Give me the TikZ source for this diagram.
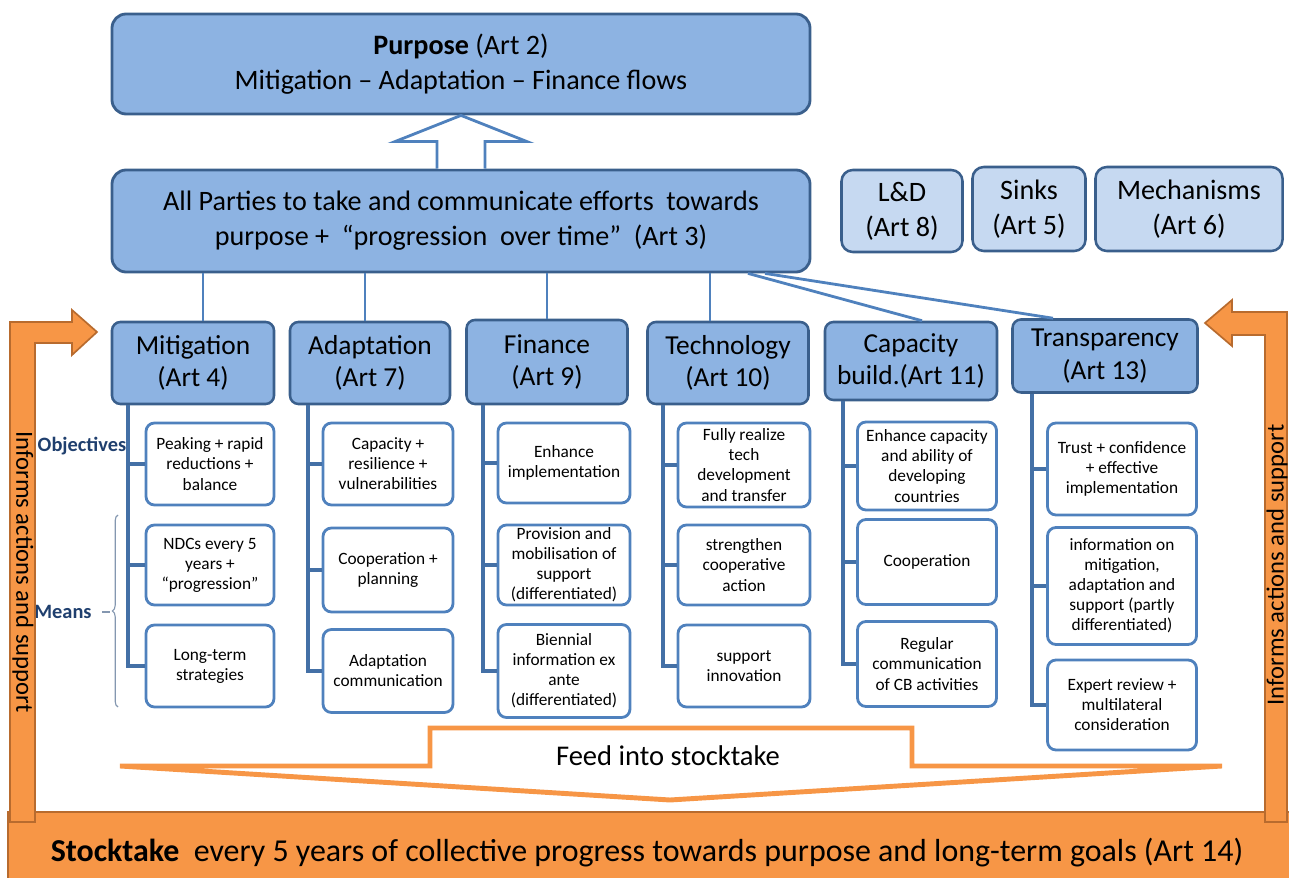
\documentclass[tikz,border=0pt]{standalone}
\usepackage{fontspec}
\setmainfont{Carlito}
\usetikzlibrary{calc}
\usetikzlibrary{decorations.pathreplacing}

\definecolor{boxfill}{HTML}{8DB3E2}
\definecolor{boxline}{HTML}{3A5F8C}
\definecolor{lightfill}{HTML}{C6D9F1}
\definecolor{subline}{HTML}{4F81BD}
\definecolor{trunkline}{HTML}{4470A6}
\definecolor{orangefill}{HTML}{F79646}
\definecolor{orangeline}{HTML}{B86B2E}
\definecolor{labelblue}{HTML}{1F3F6E}
\definecolor{bracegray}{HTML}{8497B0}
\newcommand{\pxu}{0.025cm}

\begin{document}
\begin{tikzpicture}[x=0.025cm, y=-0.025cm,
  wh/.style 2 args={minimum width=#1*\pxu, minimum height=#2*\pxu},
  bigbox/.style={draw=boxline, fill=boxfill, line width=2pt, rounded corners=10pt, align=center, inner sep=0pt, font=\fontsize{20}{25}\selectfont},
  sidebox/.style={draw=boxline, fill=lightfill, line width=1.8pt, rounded corners=8pt, align=center, inner sep=0pt, font=\fontsize{20}{25}\selectfont},
  topic/.style={draw=boxline, fill=boxfill, line width=1.8pt, rounded corners=6pt, align=center, inner sep=0pt, font=\fontsize{19.5}{23}\selectfont},
  item/.style={draw=subline, fill=white, line width=2pt, rounded corners=6pt, align=center, inner sep=0pt, font=\fontsize{12.3}{14.3}\selectfont},
  link/.style={draw=subline, line width=2pt},
  trunk/.style={draw=trunkline, line width=2.2pt},
  hollow/.style={draw=subline, fill=white, line width=2pt, line join=miter},
  bentarrow/.style={draw=orangeline, fill=orangefill, line width=1.2pt},
  feedline/.style={draw=orangefill, fill=white, line width=3.5pt, line join=miter},
  sidelabel/.style={text=labelblue, font=\fontsize{14.5}{16}\selectfont\bfseries},
  informs/.style={font=\fontsize{17.5}{19}\selectfont, inner sep=0pt}]

\useasboundingbox (0,0) rectangle (1289,878);
\clip (0,0) rectangle (1289,878);

\node[bigbox, wh={698}{100}] (purpose) at (461,64) {\textbf{Purpose} (Art 2)\\Mitigation -- Adaptation -- Finance flows};
\node[bigbox, wh={698}{102}] (parties) at (461,221) {All Parties to take and communicate efforts\ \ towards\\purpose + \ ``progression\ \ over time'' \ (Art 3)};

\node[sidebox, wh={121}{82}] (lossd) at (902,211) {L\&D\\(Art 8)};
\node[sidebox, wh={113}{84}] (sinks) at (1029,209) {Sinks\\(Art 5)};
\node[sidebox, wh={187}{84}] (mech) at (1189,209) {Mechanisms\\(Art 6)};

\coordinate (tip) at (purpose.south);
\coordinate (foot) at (parties.north);
\draw[hollow] ($(foot)+(-24,0)$) -- ($(foot)+(-24,-27)$) -- ($(foot)+(-66,-27)$) -- (tip)
  -- ($(foot)+(66,-27)$) -- ($(foot)+(24,-27)$) -- ($(foot)+(24,0)$);

\node[topic, wh={162}{82}] (mitig) at (193,363) {Mitigation\\(Art 4)};
\node[topic, wh={160}{82}] (adapt) at (370,363) {Adaptation\\(Art 7)};
\node[topic, wh={161}{84}] (finan) at (547,362) {Finance\\(Art 9)};
\node[topic, wh={161}{82}] (techn) at (728,363) {Technology\\(Art 10)};
\node[topic, wh={172}{78}] (capac) at (911,361) {Capacity\\build.(Art 11)};
\node[topic, wh={185}{73}] (transp) at (1105,356) {Transparency\\(Art 13)};

\foreach \t/\x in {mitig/203, adapt/365, finan/547, techn/710}
  \draw[link] (parties.south -| \x,0) -- (\t.north -| \x,0);
\draw[link] (parties.south -| 748,0) -- ($(capac.north)+(11,0)$);
\draw[link] (parties.south -| 765,0) -- ($(transp.north)+(-52,0)$);

\node[item, wh={128}{82}] (m1) at (210,464) {Peaking + rapid\\reductions +\\balance};
\node[item, wh={128}{80}] (m2) at (210,565) {NDCs every 5\\years +\\``progression''};
\node[item, wh={128}{82}] (m3) at (210,666) {Long-term\\strategies};

\node[item, wh={130}{82}] (a1) at (388,464) {Capacity +\\resilience +\\vulnerabilities};
\node[item, wh={130}{84}] (a2) at (388,570) {Cooperation +\\planning};
\node[item, wh={130}{83}] (a3) at (388,671) {Adaptation\\communication};

\node[item, wh={132}{80}] (f1) at (564,463) {Enhance\\implementation};
\node[item, wh={132}{80}] (f2) at (564,565) {Provision and\\mobilisation of\\support\\(differentiated)};
\node[item, wh={132}{93}] (f3) at (564,671) {Biennial\\information ex\\ante\\(differentiated)};

\node[item, wh={132}{84}] (t1) at (744,465) {Fully realize\\tech\\development\\and transfer};
\node[item, wh={132}{80}] (t2) at (744,565) {strengthen\\cooperative\\action};
\node[item, wh={132}{82}] (t3) at (744,666) {support\\innovation};

\node[item, wh={139}{88}] (c1) at (927,466) {Enhance capacity\\and ability of\\developing\\countries};
\node[item, wh={139}{85}] (c2) at (927,562) {Cooperation};
\node[item, wh={139}{85}] (c3) at (927,664) {Regular\\communication\\of CB activities};

\node[item, wh={149}{92}] (r1) at (1122,469) {Trust + confidence\\+ effective\\implementation};
\node[item, wh={149}{117}] (r2) at (1122,586) {information on\\mitigation,\\adaptation and\\support (partly\\differentiated)};
\node[item, wh={149}{90}] (r3) at (1122,705) {Expert review +\\multilateral\\consideration};

\foreach \t/\x/\c in {mitig/128/m, adapt/308/a, finan/483/f, techn/663/t, capac/843/c, transp/1032/r}
  \foreach \i in {1,2,3}
    \draw[trunk] (\t.south -| \x,0) |- (\c\i.west);

\node[sidelabel] (obj) at (82,446) {Objectives};
\node[sidelabel] (means) at (63,612) {Means};
\draw[bracegray, line width=0.8pt, decorate, decoration={brace, amplitude=4pt}] (118,707) -- (118,515);
\draw[bracegray, line width=0.8pt] (102,612) -- (110,612);

\draw[feedline] (120,766) -- (430,766) -- (430,728) -- (912,728) -- (912,766) -- (1222,766) -- (670,800) -- cycle;
\node[font=\fontsize{20.3}{22}\selectfont] (feed) at (668,756) {Feed into stocktake};

\filldraw[bentarrow] (8,812) rectangle (1300,890);
\node[font=\fontsize{22.7}{25}\selectfont] (stock) at (647,853) {\textbf{Stocktake}\ \ every 5 years of collective progress towards purpose and long-term goals (Art 14)};

\filldraw[bentarrow] (10,822) -- (10,322) -- (72,322) -- (72,310) -- (97,332) -- (72,355) -- (72,343) -- (35,343) -- (35,822) -- cycle;
\filldraw[bentarrow] (1287,822) -- (1287,312) -- (1232,312) -- (1232,300) -- (1205,323) -- (1232,346) -- (1232,335) -- (1265,335) -- (1265,822) -- cycle;
\node[informs, rotate=-90] (infl) at (23,572) {Informs actions and support};
\node[informs, rotate=90] (infr) at (1277,565) {Informs actions and support};
\end{tikzpicture}
\end{document}
